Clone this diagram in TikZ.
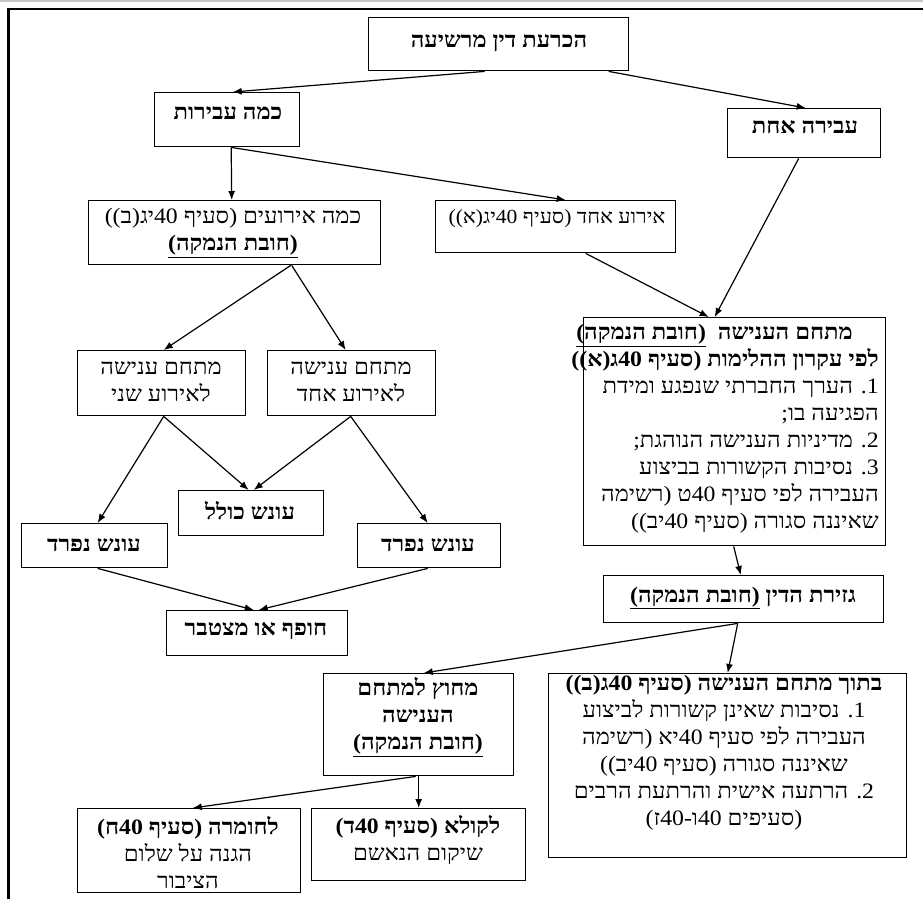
\documentclass[tikz,border=0pt]{standalone}
\usepackage{fontspec}
\setmainfont[Script=Hebrew,FakeStretch=1.08]{Liberation Serif}
\TeXXeTstate=1
\usetikzlibrary{arrows.meta,calc}
\newcommand\heb[1]{\beginR#1\endR}
\newcommand\ul[1]{\underline{\heb{#1}}}
\newcommand\bx[5]{\node[box,anchor=north west,minimum width={#4-#2},minimum height={#5-#3}] (#1) at (#2,#3) {};}
\tikzset{
  box/.style={draw,line width=1.4pt,inner sep=0pt,fill=white},
  txt/.style={inner sep=0pt,font=\fontsize{22}{27}\selectfont},
  arr/.style={line width=1.2pt,-{Latex[length=9pt,width=7pt]}},
  frame/.style={line width=2.5pt}
}
\begin{document}
\begin{tikzpicture}[x=1pt,y=-1pt]
\useasboundingbox (0,0) rectangle (923,899);
% frame
\coordinate (g1) at (0,1.5);
\coordinate (g2) at (923,1.5);
\draw[line width=2pt,gray!45] (g1) -- (g2);
\coordinate (f1) at (8.5,899);
\coordinate (f2) at (8.5,9);
\coordinate (f3) at (923,9);
\draw[frame] (f1) -- (f2) -- (f3);
% boxes
\bx{top}{368}{17}{628}{70}
\bx{kama}{154}{92}{299}{146}
\bx{achat}{727}{108}{880}{157}
\bx{eruim}{88}{200}{380}{264}
\bx{eruaechad}{435}{200}{675}{252}
\bx{big}{583}{317}{885}{545}
\bx{sheni}{77}{350}{245}{415}
\bx{echadm}{267}{350}{435}{415}
\bx{kolel}{178}{490}{323}{535}
\bx{nifL}{21}{523}{167}{567}
\bx{nifR}{357}{523}{500}{567}
\bx{chofef}{166}{610}{347}{655}
\bx{gzirat}{603}{575}{883}{622}
\bx{michutz}{323}{673}{513}{775}
\bx{betoch}{548}{673}{906}{857}
\bx{chumra}{77}{808}{300}{892}
\bx{kula}{311}{808}{525}{880}
% texts
\node[txt] (topt) at (499,43) {\bfseries\heb{הכרעת דין מרשיעה}};
\node[txt] (kamat) at (228,113) {\bfseries\heb{כמה עבירות}};
\node[txt] (achatt) at (805,127) {\bfseries\heb{עבירה אחת}};
\node[txt,align=center] (eruimt) at (233,233) {\heb{כמה אירועים (סעיף 40יג(ב))}\\\textbf{\ul{(חובת הנמקה)}}};
\node[txt,font=\fontsize{20}{27}\selectfont] (eruaechadt) at (557,219) {\heb{אירוע אחד (סעיף 40יג(א))}};
\node[txt,align=right,anchor=east] (bigt) at (879,429) {\textbf{\heb{מתחם הענישה\ \ \ul{(חובת הנמקה)}}}\hspace*{26pt}\\
\textbf{\heb{לפי עקרון ההלימות (סעיף 40ג(א))}}\\
\heb{1. הערך החברתי שנפגע ומידת}\\
\heb{הפגיעה בו;}\\
\heb{2. מדיניות הענישה הנוהגת;}\\
\heb{3. נסיבות הקשורות בביצוע}\\
\heb{העבירה לפי סעיף 40ט (רשימה}\\
\heb{שאיננה סגורה (סעיף 40יב))}};
\node[txt,align=center] (shenit) at (161,382) {\heb{מתחם ענישה}\\\heb{לאירוע שני}};
\node[txt,align=center] (echadmt) at (351,382) {\heb{מתחם ענישה}\\\heb{לאירוע אחד}};
\node[txt] (kolelt) at (250,511) {\bfseries\heb{עונש כולל}};
\node[txt] (nifLt) at (94,545) {\bfseries\heb{עונש נפרד}};
\node[txt] (nifRt) at (428,545) {\bfseries\heb{עונש נפרד}};
\node[txt] (chofeft) at (256,631) {\bfseries\heb{חופף או מצטבר}};
\node[txt] (gziratt) at (743,598) {\bfseries\heb{גזירת הדין \ul{(חובת הנמקה)}}};
\node[txt,align=center] (michutzt) at (418,717) {\bfseries\heb{מחוץ למתחם}\\\bfseries\heb{הענישה}\\\bfseries\ul{(חובת הנמקה)}};
\node[txt,align=center] (betocht) at (724,753) {\textbf{\heb{בתוך מתחם הענישה (סעיף 40ג(ב))}}\\
\heb{1. נסיבות שאינן קשורות לביצוע}\\
\heb{העבירה לפי סעיף 40יא (רשימה}\\
\heb{שאיננה סגורה (סעיף 40יב))}\\
\heb{2. הרתעה אישית והרתעת הרבים}\\
\heb{(סעיפים 40ו-40ז)}};
\node[txt,align=center] (chumrat) at (188,853) {\textbf{\heb{לחומרה (סעיף 40ח)}}\\\heb{הגנה על שלום}\\\heb{הציבור}};
\node[txt,align=center] (kulat) at (418,840) {\textbf{\heb{לקולא (סעיף 40ד)}}\\\heb{שיקום הנאשם}};
% arrows
\draw[arr] ([xshift=-14pt]top.south) -- ([xshift=5.5pt]kama.north);
\draw[arr] ([xshift=110pt]top.south) -- ([xshift=1.5pt]achat.north);
\draw[arr] ([xshift=4pt]kama.south) -- ([xshift=-3pt]eruim.north);
\draw[arr] ([xshift=4pt]kama.south) -- ([xshift=10pt]eruaechad.north);
\draw[arr] ([xshift=30pt]eruaechad.south) -- ([xshift=-26pt]big.north);
\draw[arr] ([xshift=-5.5pt]achat.south) -- ([xshift=-20pt]big.north);
\draw[arr] ([xshift=56pt]eruim.south) -- ([xshift=2pt]sheni.north);
\draw[arr] ([xshift=57pt]eruim.south) -- ([xshift=-6pt]echadm.north);
\draw[arr] ([xshift=2pt]sheni.south) -- ([xshift=3pt]nifL.north);
\draw[arr] ([xshift=2pt]sheni.south) -- ([xshift=-2.5pt]kolel.north);
\draw[arr] ([xshift=-1pt]echadm.south) -- ([xshift=2.5pt]kolel.north);
\draw[arr] ([xshift=-1pt]echadm.south) -- ([xshift=-1.5pt]nifR.north);
\draw[arr] ([xshift=3pt]nifL.south) -- ([xshift=-3.5pt]chofef.north);
\draw[arr] ([xshift=-1.5pt]nifR.south) -- ([xshift=1.5pt]chofef.north);
\draw[arr] ([xshift=-1pt]big.south) -- ([xshift=-3pt]gzirat.north);
\draw[arr] ([xshift=-6pt]gzirat.south) -- ([xshift=5pt]michutz.north);
\draw[arr] ([xshift=-6pt]gzirat.south) -- (betoch.north);
\draw[arr] ([xshift=-3pt]michutz.south) -- ([xshift=3.5pt]chumra.north);
\draw[arr] (michutz.south) -- (kula.north);
\end{tikzpicture}
\end{document}
